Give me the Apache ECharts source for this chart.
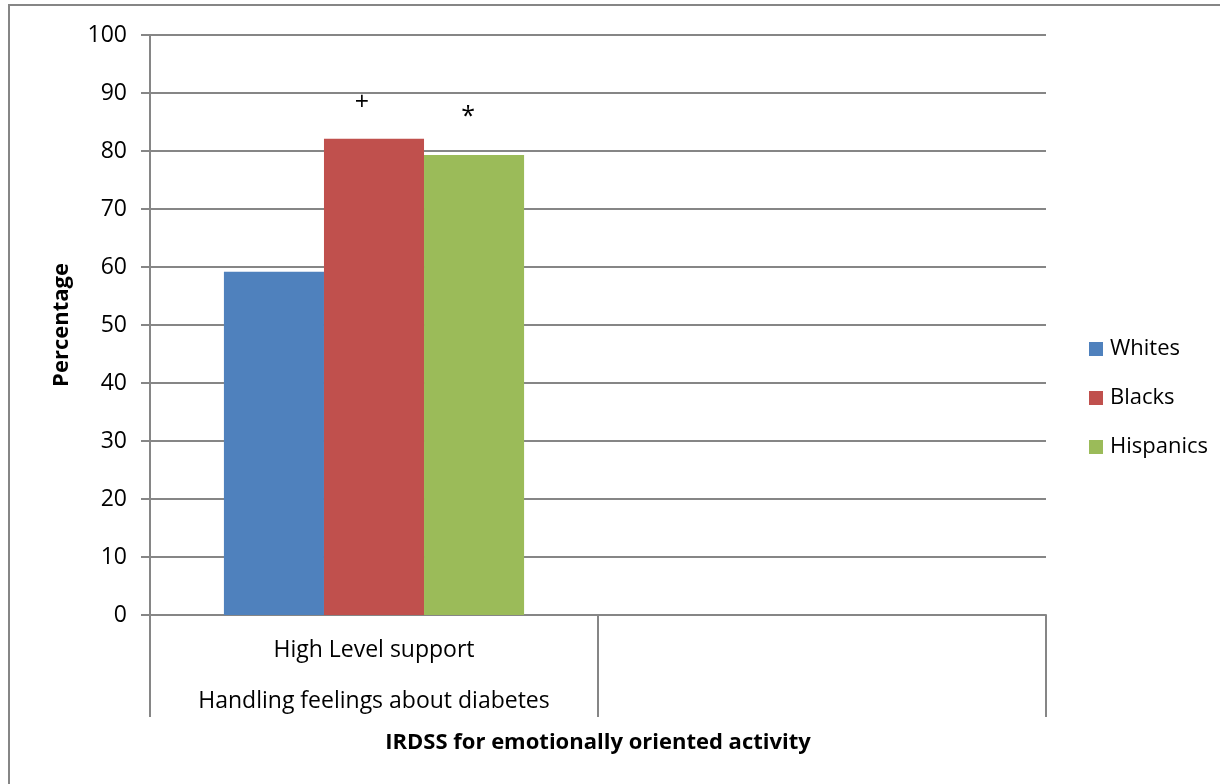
<!DOCTYPE html>
<html>
<head>
<meta charset="utf-8">
<script src="https://cdn.jsdelivr.net/npm/echarts@6/dist/echarts.min.js"></script>
<style>html,body{margin:0;padding:0;background:#fff}#c{width:1220px;height:784px}</style>
</head>
<body>
<div id="c"></div>
<script>
const categories = ["High Level support", ""];
const groupLabels = ["Handling feelings about diabetes", ""];
const seriesNames = ["Whites", "Blacks", "Hispanics"];
const whites = [59.2, null];
const blacks = [82.1, null];
const hispanics = [79.3, null];
const annotations = ["", "+", "*"];
const yTicks = [0, 100, 10];

const colors = ["#4F81BD", "#C0504D", "#9BBB59"];
const font = "'Open Sans', 'Noto Sans', sans-serif";
const values = [whites, blacks, hispanics];
const offsets = [[0, 0], [-12, -18], [-6, -21]];

const chart = echarts.init(document.getElementById('c'), null, {renderer: 'canvas'});
chart.setOption({
  animation: false,
  backgroundColor: '#fff',
  color: colors,
  graphic: [{
    type: 'rect', shape: {x: 9, y: 5, width: 1400, height: 1000},
    style: {fill: 'none', stroke: '#868686', lineWidth: 2}, silent: true, z: -1
  }],
  grid: {left: 150, right: 174, top: 35, bottom: 169, containLabel: false},
  legend: {
    orient: 'vertical', left: 1084, top: 333, itemGap: 27,
    itemWidth: 14, itemHeight: 14, icon: 'rect',
    textStyle: {fontFamily: font, fontSize: 22, color: '#000', padding: [0, 0, 0, 2]},
    data: seriesNames
  },
  xAxis: {
    type: 'category', data: categories,
    name: 'IRDSS for emotionally oriented activity', nameLocation: 'middle', nameGap: 115,
    nameTextStyle: {fontFamily: font, fontSize: 22, fontWeight: 'bold', color: '#000'},
    axisLine: {lineStyle: {color: '#868686', width: 2}},
    axisTick: {show: true, length: 102, lineStyle: {color: '#868686', width: 2}},
    axisLabel: {
      interval: 0, margin: 10, color: '#000', fontFamily: font, fontSize: 23, lineHeight: 51,
      formatter: (v, i) => v ? v + '\n' + groupLabels[i] : ''
    }
  },
  yAxis: {
    type: 'value', min: yTicks[0], max: yTicks[1], interval: yTicks[2],
    name: 'Percentage', nameLocation: 'middle', nameGap: 77, nameRotate: 90,
    nameTextStyle: {fontFamily: font, fontSize: 22, fontWeight: 'bold', color: '#000'},
    axisLine: {show: true, lineStyle: {color: '#868686', width: 2}},
    axisTick: {show: true, length: 9, lineStyle: {color: '#868686', width: 2}},
    axisLabel: {margin: 23, color: '#000', fontFamily: font, fontSize: 23},
    splitLine: {lineStyle: {color: '#868686', width: 2}}
  },
  series: seriesNames.map((n, i) => ({
    name: n, type: 'bar', data: values[i],
    barGap: '0%', barCategoryGap: '33%',
    itemStyle: {color: colors[i]},
    label: {
      show: !!annotations[i], position: 'top', offset: offsets[i],
      formatter: () => annotations[i], color: '#000', fontFamily: font, fontSize: 25
    }
  }))
});
</script>
</body>
</html>
